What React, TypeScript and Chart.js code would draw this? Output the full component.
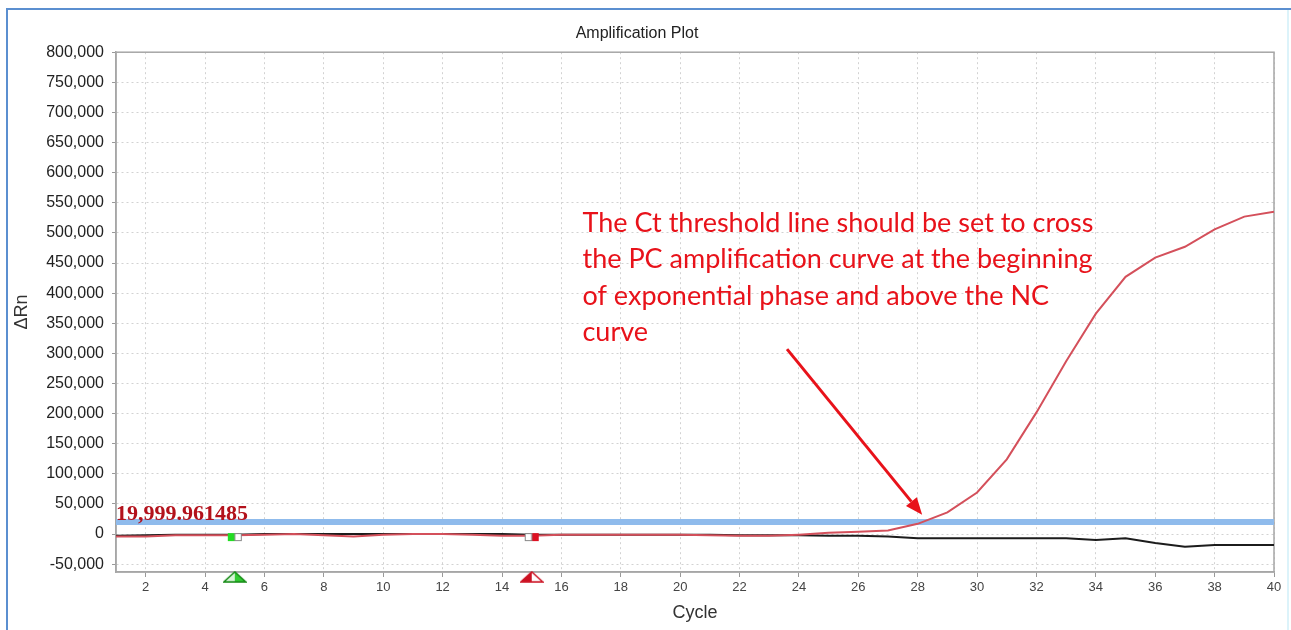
import { useEffect, useRef } from 'react';
import { Chart, registerables } from 'chart.js';

Chart.register(...registerables);

// ---------- data ----------
const cycles = [
  1, 2, 3, 4, 5, 6, 7, 8, 9, 10, 11, 12, 13, 14, 15, 16, 17, 18, 19, 20,
  21, 22, 23, 24, 25, 26, 27, 28, 29, 30, 31, 32, 33, 34, 35, 36, 37, 38, 39, 40,
];
// positive control (red)
const pcValues = [
  -4000, -4000, -2000, -2000, -2000, -1000, 0, -2000, -4000, -1000,
  0, 0, -1000, -3000, -3000, -1000, -1000, -1000, -1000, -1000,
  -2000, -3000, -3000, -1000, 2000, 4000, 6000, 17000, 36000, 69000,
  124000, 202000, 287000, 366000, 427000, 459000, 477000, 506000, 527000, 535000,
];
// negative control (black)
const ncValues = [
  -3000, -2000, -1000, -1000, -1000, 0, 0, 0, 0, 0,
  0, 0, 0, 0, -1000, -1000, -1000, -1000, -1000, -1000,
  -1000, -2000, -2000, -2000, -3000, -3000, -4000, -7000, -7000, -7000,
  -7000, -7000, -7000, -10000, -7000, -15000, -21000, -18000, -18000, -18000,
];
const thresholdValue = 19999.961485;
const thresholdLabel = '19,999.961485';
const xTickValues = [2, 4, 6, 8, 10, 12, 14, 16, 18, 20, 22, 24, 26, 28, 30, 32, 34, 36, 38, 40];
const yTickValues = [
  -50000, 0, 50000, 100000, 150000, 200000, 250000, 300000, 350000, 400000,
  450000, 500000, 550000, 600000, 650000, 700000, 750000, 800000,
];
const xMin = 1;
const xMax = 40;
const yMin = -63000;
const yMax = 800000;
const baselineStart = 5;
const baselineEnd = 15;
const baselineMarkerValue = -5000;
const baselineArrowValue = -71000;
const annotationLines = [
  'The Ct threshold line should be set to cross',
  'the PC amplification curve at the beginning',
  'of exponential phase and above the NC',
  'curve',
];
const annotationAnchor = { x: 16.71, y: 502000 };
const arrowFrom = { x: 23.6, y: 307000 };
const arrowTo = { x: 28.15, y: 32000 };

// ---------- helpers ----------
function makeBox(leftColor: string, rightColor: string, leftOutline: boolean, rightOutline: boolean) {
  const c = document.createElement('canvas');
  c.width = 16;
  c.height = 10;
  const g = c.getContext('2d')!;
  g.fillStyle = leftColor;
  g.fillRect(1, 1, 7, 8);
  g.fillStyle = rightColor;
  g.fillRect(8, 1, 7, 8);
  g.strokeStyle = '#888';
  g.lineWidth = 1;
  if (leftOutline) g.strokeRect(1.5, 1.5, 6.5, 7);
  if (rightOutline) g.strokeRect(8, 1.5, 6.5, 7);
  return c;
}

function makeTriangle(leftColor: string, rightColor: string, outline: string) {
  const c = document.createElement('canvas');
  c.width = 24;
  c.height = 12;
  const g = c.getContext('2d')!;
  g.beginPath();
  g.moveTo(12, 1);
  g.lineTo(1, 11);
  g.lineTo(12, 11);
  g.closePath();
  g.fillStyle = leftColor;
  g.fill();
  g.beginPath();
  g.moveTo(12, 1);
  g.lineTo(23, 11);
  g.lineTo(12, 11);
  g.closePath();
  g.fillStyle = rightColor;
  g.fill();
  g.beginPath();
  g.moveTo(12, 1);
  g.lineTo(1, 11);
  g.lineTo(23, 11);
  g.closePath();
  g.strokeStyle = outline;
  g.lineWidth = 1.5;
  g.stroke();
  return c;
}

const overlayPlugin = {
  id: 'overlay',
  beforeDatasetsDraw(chart: any) {
    const { ctx, chartArea } = chart;
    const { left, top, right, bottom } = chartArea;
    ctx.save();
    ctx.strokeStyle = '#a6a6a6';
    ctx.lineWidth = 1.5;
    ctx.strokeRect(left, top, right - left, bottom - top);
    ctx.restore();
  },
  afterDatasetsDraw(chart: any) {
    const { ctx, chartArea } = chart;
    const xs = chart.scales.x;
    const ys = chart.scales.y;
    ctx.save();
    // threshold label
    ctx.font = 'bold 22px "Liberation Serif", "Times New Roman", serif';
    ctx.fillStyle = '#b3121c';
    ctx.textAlign = 'left';
    ctx.textBaseline = 'alphabetic';
    ctx.fillText(thresholdLabel, chartArea.left, ys.getPixelForValue(thresholdValue) - 2);

    // annotation text
    ctx.font = '27px Lato, "Open Sans", sans-serif';
    ctx.fillStyle = '#e8121a';
    const ax = xs.getPixelForValue(annotationAnchor.x);
    const ay = ys.getPixelForValue(annotationAnchor.y);
    annotationLines.forEach((line, i) => {
      ctx.fillText(line, ax, ay + i * 36.5);
    });

    // arrow
    const x1 = xs.getPixelForValue(arrowFrom.x);
    const y1 = ys.getPixelForValue(arrowFrom.y);
    const x2 = xs.getPixelForValue(arrowTo.x);
    const y2 = ys.getPixelForValue(arrowTo.y);
    const ang = Math.atan2(y2 - y1, x2 - x1);
    const headLen = 17;
    const headW = 7;
    const bx = x2 - Math.cos(ang) * headLen;
    const by = y2 - Math.sin(ang) * headLen;
    ctx.strokeStyle = '#e8121a';
    ctx.lineWidth = 3;
    ctx.beginPath();
    ctx.moveTo(x1, y1);
    ctx.lineTo(bx, by);
    ctx.stroke();
    ctx.fillStyle = '#e8121a';
    ctx.beginPath();
    ctx.moveTo(x2, y2);
    ctx.lineTo(bx + Math.sin(ang) * headW, by - Math.cos(ang) * headW);
    ctx.lineTo(bx - Math.sin(ang) * headW, by + Math.cos(ang) * headW);
    ctx.closePath();
    ctx.fill();
    ctx.restore();
  },
};

export default function App() {
  const canvasRef = useRef<HTMLCanvasElement | null>(null);

  useEffect(() => {
    if (!canvasRef.current) return;
    const startBox = makeBox('#22dd22', '#ffffff', false, true);
    const endBox = makeBox('#ffffff', '#dd1122', true, false);
    const startTri = makeTriangle('#d8f5d8', '#33cc33', '#118811');
    const endTri = makeTriangle('#cc1122', '#ffffff', '#cc1122');

    const chart = new Chart(canvasRef.current, {
      type: 'line',
      data: {
        datasets: [
          {
            label: 'markers',
            data: [
              { x: baselineStart, y: baselineMarkerValue },
              { x: baselineEnd, y: baselineMarkerValue },
              { x: baselineStart, y: baselineArrowValue },
              { x: baselineEnd, y: baselineArrowValue },
            ],
            showLine: false,
            pointStyle: [startBox, endBox, startTri, endTri] as any,
            pointRadius: 6,
            clip: false as any,
          },
          {
            label: 'PC',
            data: cycles.map((c, i) => ({ x: c, y: pcValues[i] })),
            borderColor: '#d4505b',
            borderWidth: 2,
            pointRadius: 0,
            tension: 0,
          },
          {
            label: 'NC',
            data: cycles.map((c, i) => ({ x: c, y: ncValues[i] })),
            borderColor: '#1c1c1c',
            borderWidth: 2,
            pointRadius: 0,
            tension: 0,
          },
          {
            label: 'Threshold',
            data: [
              { x: xMin, y: thresholdValue },
              { x: xMax, y: thresholdValue },
            ],
            borderColor: '#8fbbec',
            borderWidth: 6,
            pointRadius: 0,
          },
        ],
      },
      options: {
        responsive: false,
        animation: false,
        events: [],
        layout: { padding: { left: 0, right: 17, top: 0, bottom: 0 } },
        plugins: {
          legend: { display: false },
          tooltip: { enabled: false },
          title: {
            display: true,
            text: 'Amplification Plot',
            color: '#222',
            font: { family: '"Liberation Sans", Arial, sans-serif', size: 16, weight: 'normal' },
            padding: { top: 24, bottom: 9 },
          },
        },
        scales: {
          x: {
            type: 'linear',
            min: xMin,
            max: xMax,
            afterBuildTicks: (s: any) => {
              s.ticks = xTickValues.map((v) => ({ value: v }));
            },
            afterFit: (s: any) => {
              s.height = 58;
            },
            ticks: {
              autoSkip: false,
              maxRotation: 0,
              padding: 3,
              color: '#444',
              font: { family: '"Liberation Sans", Arial, sans-serif', size: 13 },
            },
            grid: { color: '#d2d2d2', tickLength: 5, tickColor: '#999' },
            border: { color: '#a6a6a6', width: 1.5, dash: [2, 3] },
            title: {
              display: true,
              text: 'Cycle',
              color: '#333',
              font: { family: '"Liberation Sans", Arial, sans-serif', size: 18 },
              padding: { top: 0, bottom: 6 },
            },
          },
          y: {
            type: 'linear',
            min: yMin,
            max: yMax,
            afterBuildTicks: (s: any) => {
              s.ticks = yTickValues.map((v) => ({ value: v }));
            },
            afterFit: (s: any) => {
              s.width = 116;
            },
            ticks: {
              padding: 8,
              color: '#222',
              font: { family: '"Liberation Sans", Arial, sans-serif', size: 16 },
              callback: (v: any) => Number(v).toLocaleString('en-US'),
            },
            grid: { color: '#d2d2d2', tickLength: 4, tickColor: '#999' },
            border: { color: '#a6a6a6', width: 1.5, dash: [2, 3] },
            title: {
              display: true,
              text: 'ΔRn',
              color: '#333',
              font: { family: '"Liberation Sans", Arial, sans-serif', size: 18 },
              padding: { top: 11, bottom: 0 },
            },
          },
        },
      },
      plugins: [overlayPlugin],
    });
    return () => chart.destroy();
  }, []);

  return (
    <div style={{ position: 'absolute', left: 0, top: 0, width: 1291, height: 630, background: '#fff', overflow: 'hidden' }}>
      <canvas ref={canvasRef} width={1291} height={630} style={{ position: 'absolute', left: 0, top: 0, width: 1291, height: 630 }} />
      <div style={{ position: 'absolute', left: 6, top: 8, width: 1285, height: 2, background: '#5b8fd0' }} />
      <div style={{ position: 'absolute', left: 6, top: 8, width: 2, height: 622, background: '#5b8fd0' }} />
      <div style={{ position: 'absolute', left: 1287, top: 10, width: 2, height: 620, background: '#dcf3fa' }} />
    </div>
  );
}
